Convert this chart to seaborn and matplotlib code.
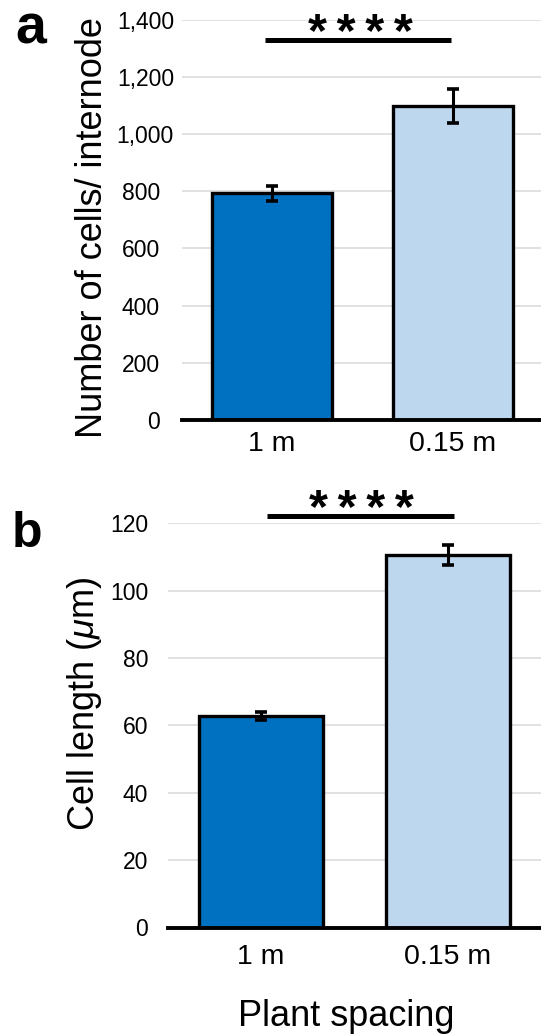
import matplotlib
matplotlib.use("Agg")
import matplotlib.pyplot as plt
import seaborn as sns
import pandas as pd
from matplotlib.transforms import ScaledTranslation

# ---------------- data ----------------
categories = ["1 m", "0.15 m"]
cells_mean = [792, 1097]
cells_err = [25, 60]
length_mean = [62.8, 110.6]
length_err = [1.2, 3.0]
cells_ticks = [0, 200, 400, 600, 800, 1000, 1200, 1400]
cells_ticklabels = ["0", "200", "400", "600", "800", "1,000", "1,200", "1,400"]
length_ticks = [0, 20, 40, 60, 80, 100, 120]
length_ticklabels = ["0", "20", "40", "60", "80", "100", "120"]
bar_colors = ["#0070C0", "#BDD7EE"]
sig_label = "*\u2009*\u2009*\u2009*"

# ---------------- style ----------------
sns.set_style("white")
plt.rcParams["font.family"] = ["Liberation Sans", "DejaVu Sans"]
plt.rcParams["mathtext.fontset"] = "custom"
plt.rcParams["mathtext.rm"] = "Liberation Sans"
plt.rcParams["mathtext.it"] = "Liberation Sans:italic"
for key in ["text.color", "axes.labelcolor", "xtick.color", "ytick.color"]:
    plt.rcParams[key] = "black"

W, H = 541, 1035
fig = plt.figure(figsize=(W / 100, H / 100), dpi=100)
fig.patch.set_facecolor("white")

ax_a = fig.add_axes([181.5 / W, 1 - 420 / H, 362 / W, 400.5 / H])
ax_b = fig.add_axes([167.5 / W, 1 - 927.5 / H, 374 / W, 404.2 / H])


def draw_panel(ax, means, errs, ticks, ticklabels, ylim, xpad, ypad):
    df = pd.DataFrame({"spacing": categories, "value": means})
    ax.set_axisbelow(True)
    ax.yaxis.grid(True, color="#d9d9d9", lw=1.1)
    ax.xaxis.grid(False)
    sns.barplot(data=df, x="spacing", y="value", hue="spacing",
                palette=bar_colors, saturation=1, edgecolor="black",
                linewidth=2.4, width=0.66, legend=False, errorbar=None, ax=ax)
    ax.errorbar(range(len(categories)), means, yerr=errs, fmt="none",
                ecolor="black", elinewidth=2.2, capsize=4.0, capthick=2.6,
                zorder=5)
    ax.set_xlim(-0.5, 1.5)
    ax.set_ylim(*ylim)
    ax.set_yticks(ticks)
    ax.set_yticklabels(ticklabels)
    for s in ["left", "top", "right"]:
        ax.spines[s].set_visible(False)
    ax.spines["bottom"].set_color("black")
    ax.spines["bottom"].set_linewidth(2.8)
    ax.set_xticks([1.5], minor=True)
    ax.tick_params(axis="x", which="both", direction="inout", length=6,
                   width=2.2, color="black")
    ax.tick_params(axis="x", which="major", labelsize=20.5, pad=xpad,
                   labelcolor="black")
    ax.tick_params(axis="y", length=0, pad=ypad, labelsize=16.5,
                   labelcolor="black")
    ax.set_xlabel("")
    ax.set_ylabel("")


draw_panel(ax_a, cells_mean, cells_err, cells_ticks, cells_ticklabels,
           (0, 1400), 4.8, 15.5)
draw_panel(ax_b, length_mean, length_err, length_ticks, length_ticklabels,
           (0, 120), 9.0, 14.0)

# comma labels in panel a sit further right
offset = ScaledTranslation(0.14, 0, fig.dpi_scale_trans)
for lbl in ax_a.get_yticklabels():
    if "," in lbl.get_text():
        lbl.set_transform(lbl.get_transform() + offset)

# significance bars
ax_a.plot([-0.04, 0.99], [1328, 1328], color="black", lw=3.6,
          clip_on=False, solid_capstyle="butt")
ax_a.text(0.49, 1304, sig_label, ha="center", va="baseline", fontsize=35,
          fontweight="bold", clip_on=False)
ax_b.plot([0.03, 1.03], [122.2, 122.2], color="black", lw=3.6,
          clip_on=False, solid_capstyle="butt")
ax_b.text(0.537, 120.2, sig_label, ha="center", va="baseline", fontsize=35,
          fontweight="bold", clip_on=False)

# axis labels
ax_a.set_ylabel("Number of cells/ internode", fontsize=26)
ax_a.yaxis.set_label_coords(110 / W, 1 - 227.5 / H, transform=fig.transFigure)
ax_b.set_ylabel(r"Cell length ($\mu$m)", fontsize=26)
ax_b.yaxis.set_label_coords(104 / W, 1 - 704 / H, transform=fig.transFigure)
ax_b.set_xlabel("Plant spacing", fontsize=26)
ax_b.xaxis.set_label_coords(346 / W, 1 - 999 / H, transform=fig.transFigure)

# panel letters
fig.text(15 / W, 1 - 43 / H, "a", fontsize=40, fontweight="bold",
         ha="left", va="baseline")
fig.text(12 / W, 1 - 547 / H, "b", fontsize=36, fontweight="bold",
         ha="left", va="baseline")

fig.savefig("out.png", dpi=100, facecolor="white")
